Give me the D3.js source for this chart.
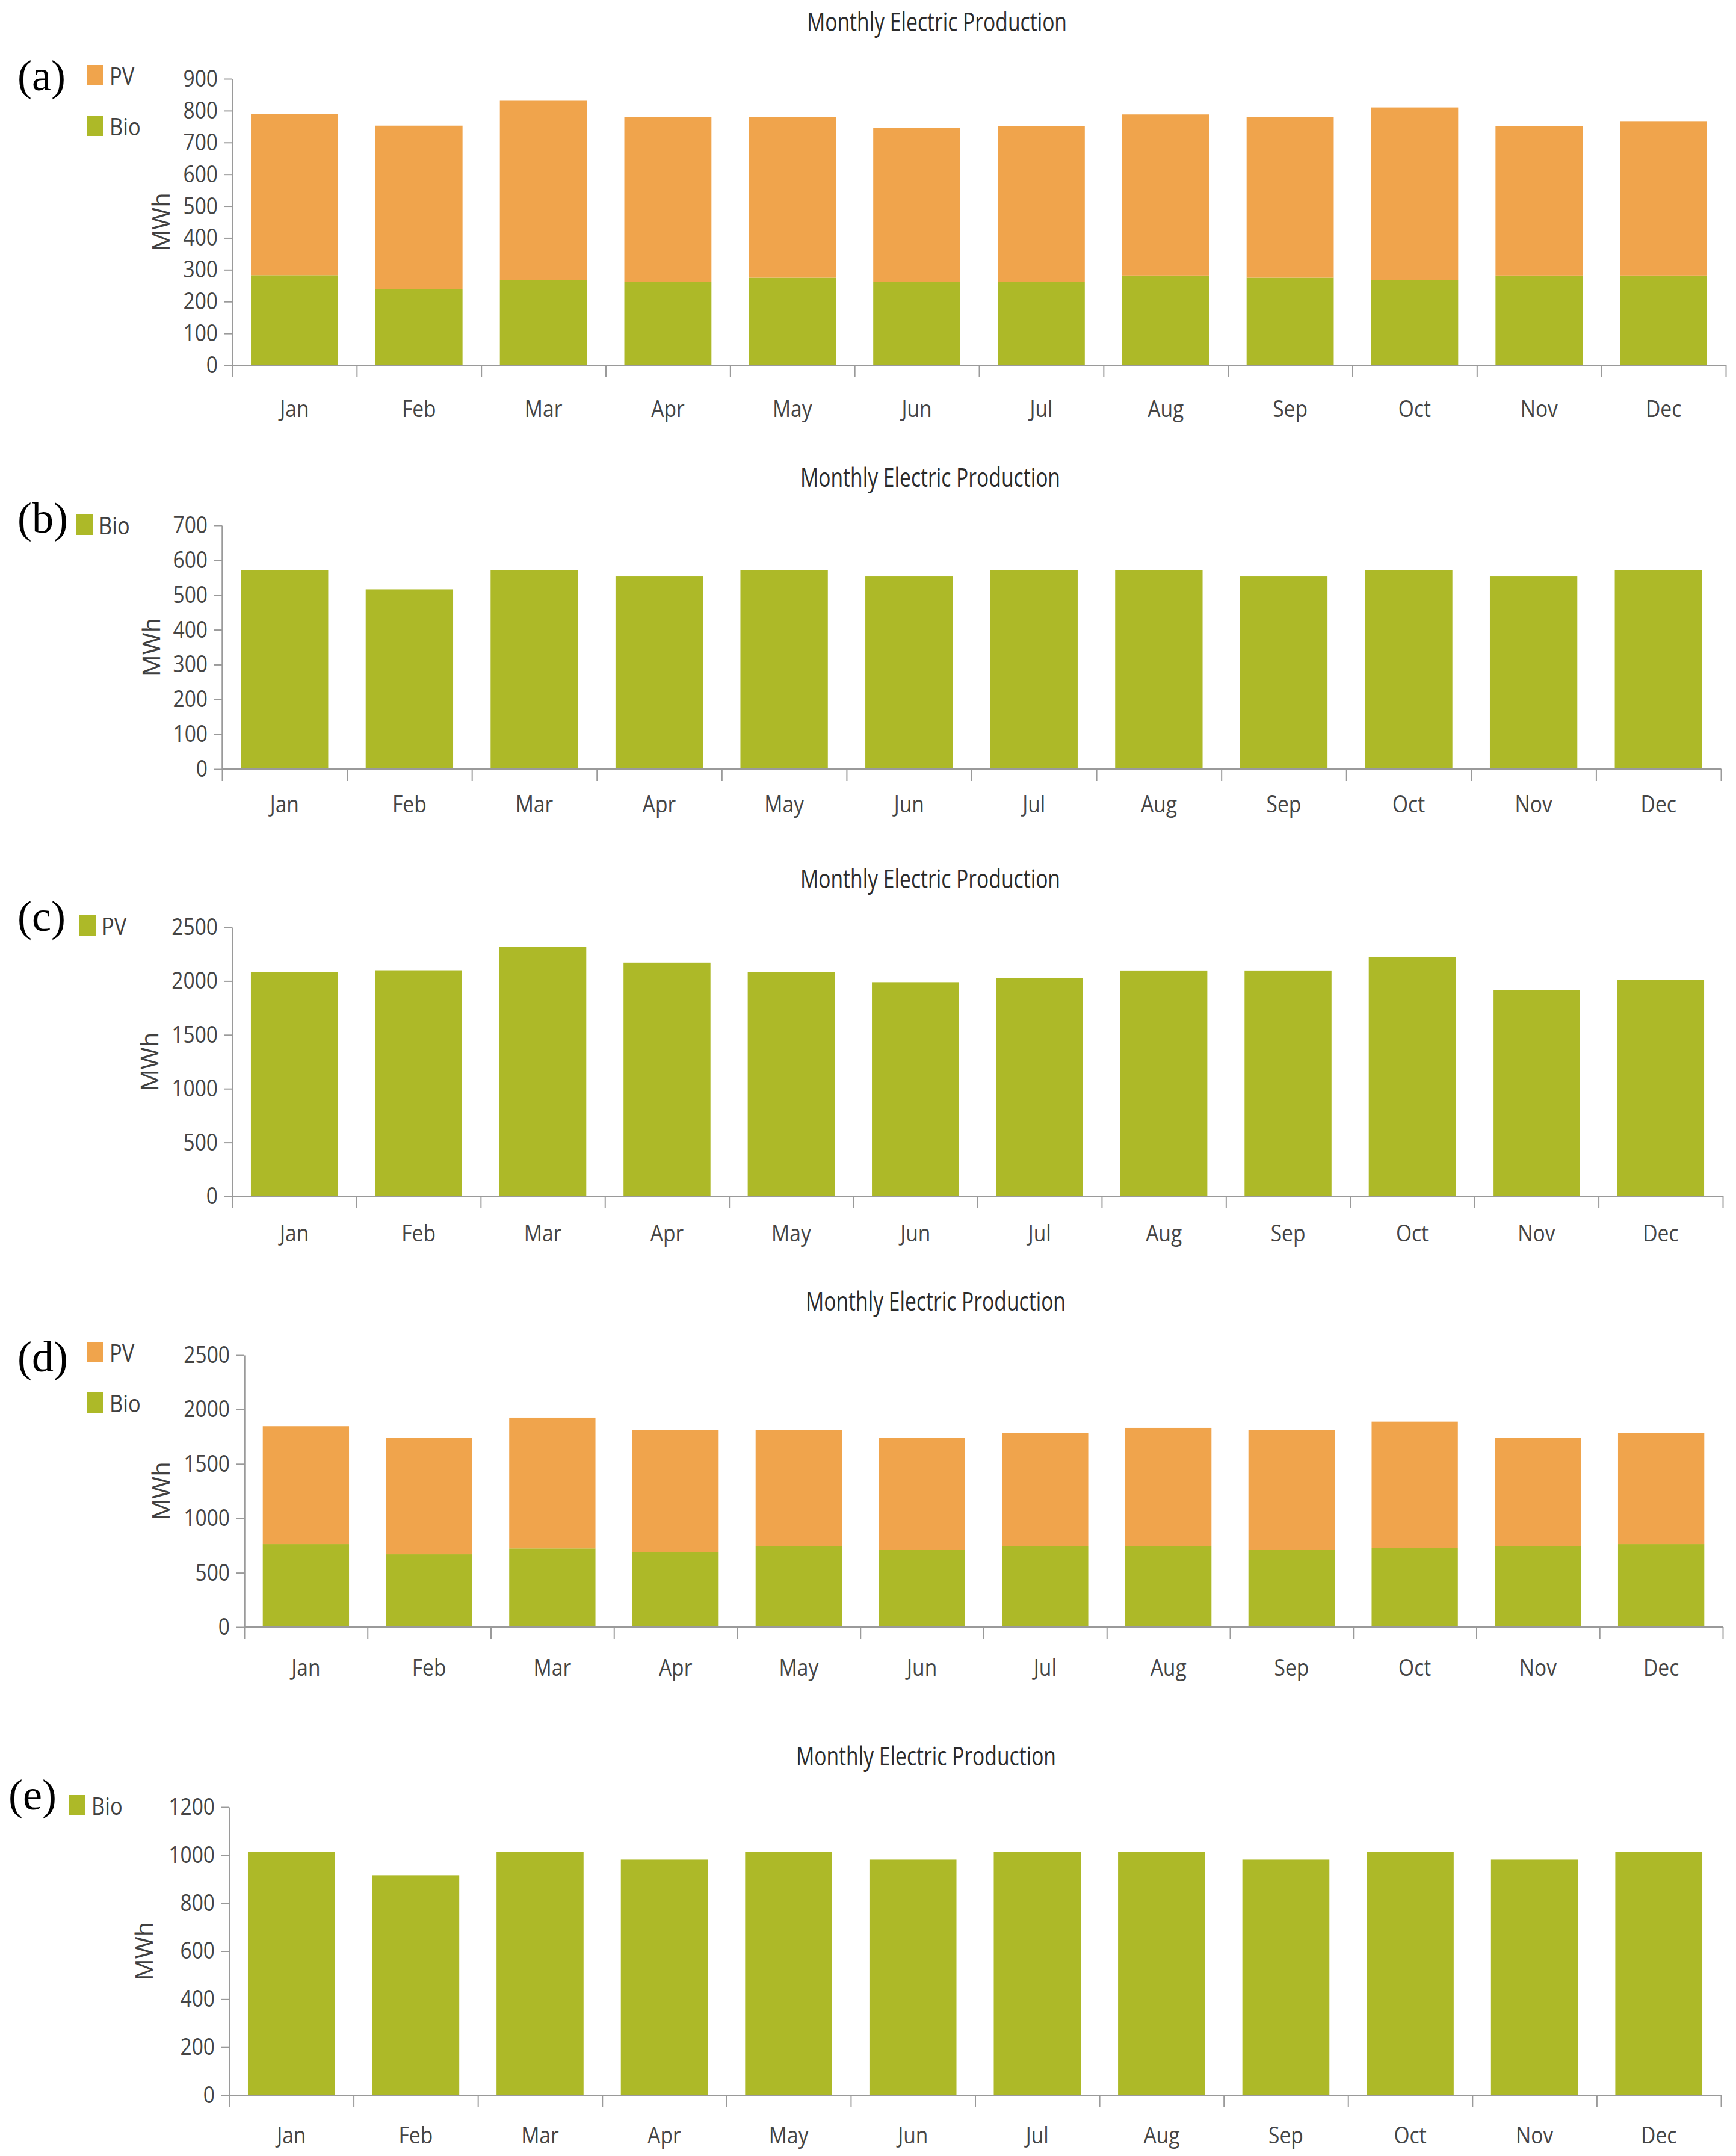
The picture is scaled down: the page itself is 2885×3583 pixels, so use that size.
<!DOCTYPE html>
<html>
<head>
    <meta charset="utf-8">
    <script src="https://d3js.org/d3.v7.min.js"></script>
    <style>
        body { margin: 0; background: #fff; }
        svg text { font-family: "Open Sans", "Noto Sans", sans-serif; }
    </style>
</head>
<body>
<svg id="chart" width="2885" height="3583"></svg>
<script>
// months on the x axis
const months = ["Jan", "Feb", "Mar", "Apr", "May", "Jun", "Jul", "Aug", "Sep", "Oct", "Nov", "Dec"];

// (a) PV + Bio, stacked
const bioA = [283, 239, 267, 261, 275, 261, 261, 282, 275, 268, 282, 282];
const pvA  = [506, 514, 564, 519, 505, 484, 491, 506, 505, 542, 470, 485];
// (b) Bio only
const bioB = [571, 516, 571, 553, 571, 553, 571, 571, 553, 571, 553, 571];
// (c) PV only
const pvC  = [2083, 2100, 2318, 2171, 2081, 1989, 2025, 2098, 2098, 2226, 1913, 2008];
// (d) PV + Bio, stacked
const bioD = [763, 669, 723, 686, 745, 708, 745, 745, 708, 728, 745, 763];
const pvD  = [1083, 1073, 1202, 1123, 1064, 1034, 1039, 1086, 1101, 1160, 997, 1021];
// (e) Bio only
const bioE = [1014, 916, 1014, 981, 1014, 981, 1014, 1014, 981, 1014, 981, 1014];

// y tick values
const ticksA = [0, 100, 200, 300, 400, 500, 600, 700, 800, 900];
const ticksB = [0, 100, 200, 300, 400, 500, 600, 700];
const ticksC = [0, 500, 1000, 1500, 2000, 2500];
const ticksD = [0, 500, 1000, 1500, 2000, 2500];
const ticksE = [0, 200, 400, 600, 800, 1000, 1200];

const ORANGE = "#F0A44C";
const GREEN = "#ADB928";

const svg = d3.select("#chart");

// squeeze text a little, the original font is narrow
function condense(sel, f) {
    sel.each(function() {
        const w = this.getComputedTextLength();
        this.setAttribute("textLength", w * f);
        this.setAttribute("lengthAdjust", "spacingAndGlyphs");
    });
}

function drawPanel(p) {
    const g = svg.append("g");

    const x = d3.scaleBand().domain(months).range([p.x0, p.x1])
        .paddingInner(0.3).paddingOuter(0.15);
    const y = d3.scaleLinear().domain([0, d3.max(p.ticks)]).range([p.yBot, p.yTop]);

    // rows for the stack
    const rows = months.map(function(m, i) {
        const r = { month: m };
        p.series.forEach(function(s) { r[s.name] = s.values[i]; });
        return r;
    });
    const stacked = d3.stack().keys(p.series.map(s => s.name))(rows);

    stacked.forEach(function(layer, k) {
        g.append("g").selectAll("rect").data(layer).join("rect")
            .attr("x", d => x(d.data.month))
            .attr("width", x.bandwidth())
            .attr("y", d => y(d[1]))
            .attr("height", d => y(d[0]) - y(d[1]))
            .attr("fill", p.series[k].color);
    });

    // y axis
    const yAxis = g.append("g").attr("transform", "translate(" + p.x0 + ",0)")
        .call(d3.axisLeft(y).tickValues(p.ticks).tickFormat(d3.format("d"))
            .tickSize(14).tickSizeOuter(0).tickPadding(10));
    yAxis.select(".domain").attr("stroke", "#9a9a9a").attr("stroke-width", 2.5);
    yAxis.selectAll(".tick line").attr("stroke", "#9a9a9a").attr("stroke-width", 2);
    yAxis.selectAll("text").attr("font-size", 39).attr("fill", "#454545")
        .call(condense, 0.86);

    // x axis: boundary ticks between months
    const edge = d3.scaleLinear().domain([0, months.length]).range([p.x0, p.x1]);
    const xAxis = g.append("g").attr("transform", "translate(0," + p.yBot + ")")
        .call(d3.axisBottom(edge).ticks(months.length).tickFormat("").tickSize(20).tickSizeOuter(0));
    xAxis.select(".domain").attr("stroke", "#9a9a9a").attr("stroke-width", 3);
    xAxis.selectAll(".tick line").attr("stroke", "#9a9a9a").attr("stroke-width", 2);

    // month labels
    const xLab = g.append("g").attr("transform", "translate(0," + p.yBot + ")")
        .call(d3.axisBottom(x).tickSize(0));
    xLab.select(".domain").remove();
    xLab.selectAll("text").attr("y", p.labOff).attr("dy", 0)
        .attr("font-size", 39).attr("fill", "#454545")
        .call(condense, 0.86);

    // y axis title
    g.append("text")
        .attr("transform", "translate(" + p.mwhX + "," + ((p.yTop + p.yBot) / 2) + ") rotate(-90)")
        .attr("text-anchor", "middle").attr("dominant-baseline", "central")
        .attr("font-size", 40).attr("fill", "#404040")
        .text("MWh");

    // chart title
    g.append("text")
        .attr("x", p.titleX).attr("y", p.titleY)
        .attr("text-anchor", "middle")
        .attr("font-size", 44).attr("fill", "#2b2b2b")
        .attr("textLength", 432).attr("lengthAdjust", "spacingAndGlyphs")
        .text("Monthly Electric Production");

    // panel letter
    g.append("text")
        .attr("x", p.letterX).attr("y", p.letterY)
        .style("font-family", "'Liberation Serif', 'Times New Roman', serif")
        .attr("font-size", 72).attr("fill", "#000")
        .text("(" + p.letter + ")");

    // legend
    p.legend.forEach(function(item, i) {
        const ly = p.legY + i * 84;
        g.append("rect")
            .attr("x", p.legX).attr("y", ly)
            .attr("width", 28).attr("height", 34)
            .attr("fill", item.color);
        g.append("text")
            .attr("x", p.legX + 38).attr("y", ly + 17)
            .attr("dominant-baseline", "central")
            .attr("font-size", 40).attr("fill", "#404040")
            .text(item.name)
            .call(condense, 0.86);
    });
}

drawPanel({
    letter: "a", letterX: 29, letterY: 150,
    x0: 386, x1: 2868, yTop: 131, yBot: 607, ticks: ticksA,
    series: [{ name: "Bio", values: bioA, color: GREEN }, { name: "PV", values: pvA, color: ORANGE }],
    legend: [{ name: "PV", color: ORANGE }, { name: "Bio", color: GREEN }],
    legX: 144, legY: 108, titleX: 1557, titleY: 52, mwhX: 266, labOff: 86
});

drawPanel({
    letter: "b", letterX: 29, letterY: 885,
    x0: 369, x1: 2860, yTop: 873, yBot: 1278, ticks: ticksB,
    series: [{ name: "Bio", values: bioB, color: GREEN }],
    legend: [{ name: "Bio", color: GREEN }],
    legX: 126, legY: 855, titleX: 1546, titleY: 809, mwhX: 250, labOff: 72
});

drawPanel({
    letter: "c", letterX: 29, letterY: 1547,
    x0: 386, x1: 2863, yTop: 1541, yBot: 1988, ticks: ticksC,
    series: [{ name: "PV", values: pvC, color: GREEN }],
    legend: [{ name: "PV", color: GREEN }],
    legX: 131, legY: 1521, titleX: 1546, titleY: 1476, mwhX: 247, labOff: 75
});

drawPanel({
    letter: "d", letterX: 29, letterY: 2279,
    x0: 406, x1: 2863, yTop: 2252, yBot: 2704, ticks: ticksD,
    series: [{ name: "Bio", values: bioD, color: GREEN }, { name: "PV", values: pvD, color: ORANGE }],
    legend: [{ name: "PV", color: ORANGE }, { name: "Bio", color: GREEN }],
    legX: 144, legY: 2230, titleX: 1555, titleY: 2178, mwhX: 266, labOff: 81
});

drawPanel({
    letter: "e", letterX: 14, letterY: 3007,
    x0: 381, x1: 2860, yTop: 3003, yBot: 3482, ticks: ticksE,
    series: [{ name: "Bio", values: bioE, color: GREEN }],
    legend: [{ name: "Bio", color: GREEN }],
    legX: 114, legY: 2983, titleX: 1539, titleY: 2934, mwhX: 238, labOff: 80
});
</script>
</body>
</html>
